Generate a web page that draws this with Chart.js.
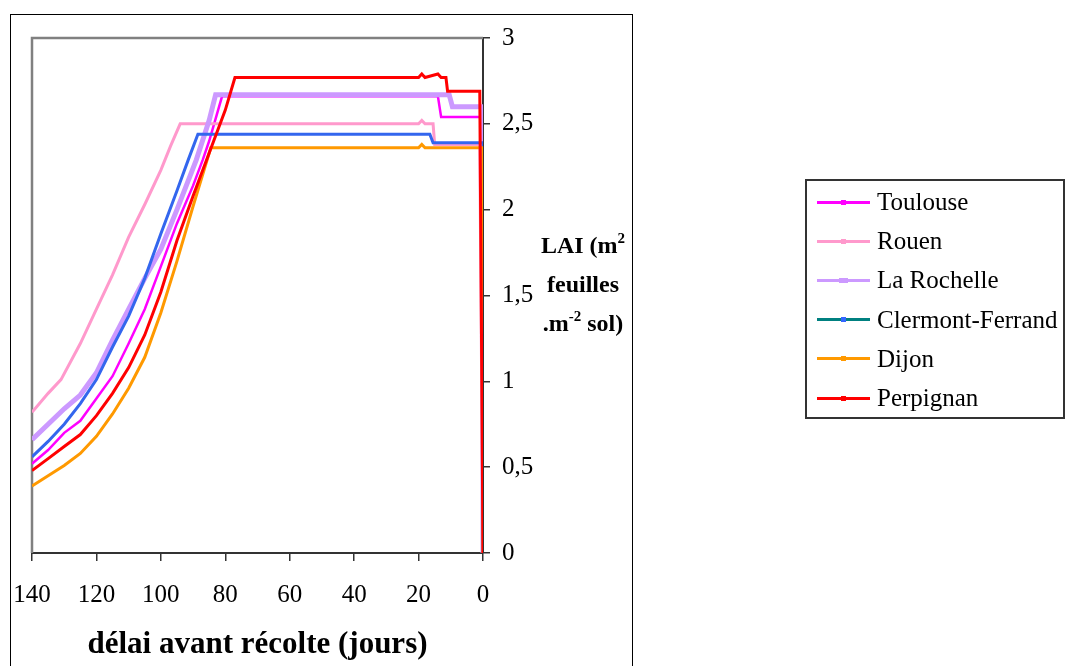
<!DOCTYPE html>
<html>
<head>
<meta charset="utf-8">
<script src="https://cdn.jsdelivr.net/npm/chart.js@4"></script>
<style>
  body { margin: 0; background: #fff; font-family: 'Liberation Serif', 'Times New Roman', serif; }
  #wrap { position: relative; width: 1066px; height: 666px; overflow: hidden; }
  #frame { position: absolute; left: 10px; top: 14px; width: 621px; height: 700px; border: 1px solid #000; }
  #chart-box { position: absolute; left: 0; top: 0; width: 1066px; height: 666px; }
  .x-title { position: absolute; left: 32px; width: 451px; top: 625px; text-align: center; font-weight: bold; font-size: 31px; color: #000; }
  .y-title { position: absolute; left: 530px; top: 226px; width: 106px; text-align: center; font-weight: bold; font-size: 24px; line-height: 39px; color: #000; }
  .y-title sup { font-size: 15px; vertical-align: 10px; line-height: 0; }
  #chart-legend { position: absolute; left: 805px; top: 179px; width: 256px; height: 236px; border: 2px solid #333; }
  .legend-item { position: absolute; left: 10px; height: 30px; display: flex; align-items: center; font-size: 25px; color: #000; }
  .legend-line { position: relative; width: 53px; height: 3px; margin-right: 7px; }
  .legend-dot { position: absolute; top: -1px; height: 5px; }
</style>
</head>
<body>
<div id="wrap">
  <div id="frame"></div>
  <div id="chart-box"><canvas id="lai-chart"></canvas></div>
  <div class="x-title">délai avant récolte (jours)</div>
  <div class="y-title">LAI (m<sup>2</sup><br>feuilles<br>.m<sup>-2</sup> sol)</div>
  <div id="chart-legend"></div>
</div>
<script>
// Jours avant récolte (axe inversé) et LAI
const toulouseDays = [140, 135, 130, 125, 120, 115, 110, 105, 100, 95, 90, 87, 85, 81, 14, 13, 0.5, 0];
const toulouseLai  = [0.52, 0.60, 0.70, 0.77, 0.90, 1.03, 1.22, 1.42, 1.67, 1.92, 2.14, 2.29, 2.40, 2.66, 2.66, 2.54, 2.54, 0];

const rouenDays = [140, 135, 131, 125, 120, 115, 110, 105, 100, 97, 94, 20, 19, 18, 15.5, 15, 1, 0];
const rouenLai  = [0.82, 0.93, 1.01, 1.22, 1.42, 1.62, 1.84, 2.03, 2.23, 2.37, 2.50, 2.50, 2.52, 2.50, 2.50, 2.38, 2.38, 0];

const rochelleDays = [140, 135, 130, 125, 120, 115, 110, 105, 100, 95, 89, 85, 83, 10.5, 9.5, 0, 0];
const rochelleLai  = [0.66, 0.75, 0.84, 0.92, 1.05, 1.24, 1.42, 1.60, 1.77, 2.00, 2.29, 2.52, 2.67, 2.67, 2.60, 2.60, 0];

const clermontDays = [140, 135, 130, 125, 120, 115, 110, 105, 100, 95, 91.5, 88.5, 16.5, 15.5, 0, 0];
const clermontLai  = [0.56, 0.65, 0.75, 0.87, 1.01, 1.20, 1.38, 1.60, 1.86, 2.11, 2.29, 2.44, 2.44, 2.39, 2.39, 0];

const dijonDays = [140, 135, 130, 125, 120, 115, 110, 105, 100, 95, 90, 84.5, 20, 19, 18, 0, 0];
const dijonLai  = [0.39, 0.45, 0.51, 0.58, 0.68, 0.81, 0.96, 1.14, 1.40, 1.70, 2.02, 2.36, 2.36, 2.38, 2.36, 2.36, 0];

const perpignanDays = [140, 135, 130, 125, 120, 115, 110, 105, 100, 95, 90, 85, 80, 77, 20, 19, 18, 14, 13, 11.5, 11, 1, 0];
const perpignanLai  = [0.48, 0.55, 0.62, 0.69, 0.80, 0.93, 1.08, 1.27, 1.52, 1.82, 2.08, 2.33, 2.58, 2.77, 2.77, 2.79, 2.77, 2.79, 2.77, 2.77, 2.69, 2.69, 0];

const xTicks = [140, 120, 100, 80, 60, 40, 20, 0];
const yTicks = [0, 0.5, 1, 1.5, 2, 2.5, 3];

// nom, jours, valeurs, couleur de ligne, couleur du marqueur, épaisseur
const SERIES = [
    ['Toulouse', toulouseDays, toulouseLai, '#ff00ff', '#ff00ff', 2.5],
    ['Rouen', rouenDays, rouenLai, '#ff99cc', '#ff99cc', 3],
    ['La Rochelle', rochelleDays, rochelleLai, '#cc99ff', '#cc99ff', 5],
    ['Clermont-Ferrand', clermontDays, clermontLai, '#3366ee', '#3366ff', 3],
    ['Dijon', dijonDays, dijonLai, '#ff9900', '#ff9900', 3],
    ['Perpignan', perpignanDays, perpignanLai, '#ff0000', '#ff0000', 3]
];
const LEGEND_LINE = { 'Clermont-Ferrand': '#008080' };

function toPoints(days, vals) {
    return days.map((d, i) => ({ x: d, y: vals[i] }));
}

// cadre gris haut/gauche de la zone de tracé
const plotFrame = {
    id: 'plotFrame',
    beforeDatasetsDraw(chart) {
        const { ctx, chartArea: a } = chart;
        ctx.save();
        ctx.strokeStyle = '#808080';
        ctx.lineWidth = 2.5;
        ctx.beginPath();
        ctx.moveTo(a.left, a.bottom);
        ctx.lineTo(a.left, a.top);
        ctx.lineTo(a.right, a.top);
        ctx.stroke();
        ctx.restore();
    }
};

function initializeChart() {
    const ctx = document.getElementById('lai-chart').getContext('2d');
    const n = SERIES.length;
    return new Chart(ctx, {
        type: 'line',
        data: {
            datasets: SERIES.map((s, i) => ({
                label: s[0],
                data: toPoints(s[1], s[2]),
                borderColor: s[3],
                backgroundColor: s[4],
                borderWidth: s[5],
                pointRadius: 0,
                fill: false,
                tension: 0,
                order: n - 1 - i
            }))
        },
        options: {
            responsive: true,
            maintainAspectRatio: false,
            animation: false,
            layout: { padding: { left: 32, top: 38, right: 0, bottom: 0 } },
            plugins: { legend: { display: false }, tooltip: { enabled: false } },
            scales: {
                x: {
                    type: 'linear',
                    reverse: true,
                    min: 0,
                    max: 140,
                    afterBuildTicks: axis => { axis.ticks = xTicks.map(v => ({ value: v })); },
                    afterFit: axis => { axis.height = 113; axis.paddingLeft = 0; axis.paddingRight = 0; },
                    grid: { drawOnChartArea: false, drawTicks: true, tickLength: 8, color: '#333', lineWidth: 1.5 },
                    border: { display: true, color: '#333', width: 2 },
                    ticks: { color: '#000', padding: 19, maxRotation: 0, font: { family: 'Liberation Serif', size: 25 } }
                },
                y: {
                    position: 'right',
                    min: 0,
                    max: 3,
                    afterBuildTicks: axis => { axis.ticks = yTicks.map(v => ({ value: v })); },
                    afterFit: axis => { axis.width = 583; axis.paddingTop = 0; axis.paddingBottom = 0; },
                    grid: { drawOnChartArea: false, drawTicks: true, tickLength: 7, color: '#333', lineWidth: 1.5 },
                    border: { display: true, color: '#333', width: 2 },
                    ticks: {
                        color: '#000',
                        padding: 12,
                        font: { family: 'Liberation Serif', size: 25 },
                        callback: v => String(v).replace('.', ',')
                    }
                }
            }
        },
        plugins: [plotFrame]
    });
}

function updateChartLegend() {
    const box = document.getElementById('chart-legend');
    box.innerHTML = SERIES.map((s, i) => {
        const lineColor = LEGEND_LINE[s[0]] || s[3];
        const dotW = s[0] === 'La Rochelle' ? 9 : 5;
        return `
            <div class="legend-item" style="top:${6 + i * 39.2}px">
                <div class="legend-line" style="background:${lineColor}">
                    <div class="legend-dot" style="background:${s[4]};width:${dotW}px;left:${26 - dotW / 2}px"></div>
                </div>
                <span>${s[0]}</span>
            </div>`;
    }).join('');
}

initializeChart();
updateChartLegend();
</script>
</body>
</html>
